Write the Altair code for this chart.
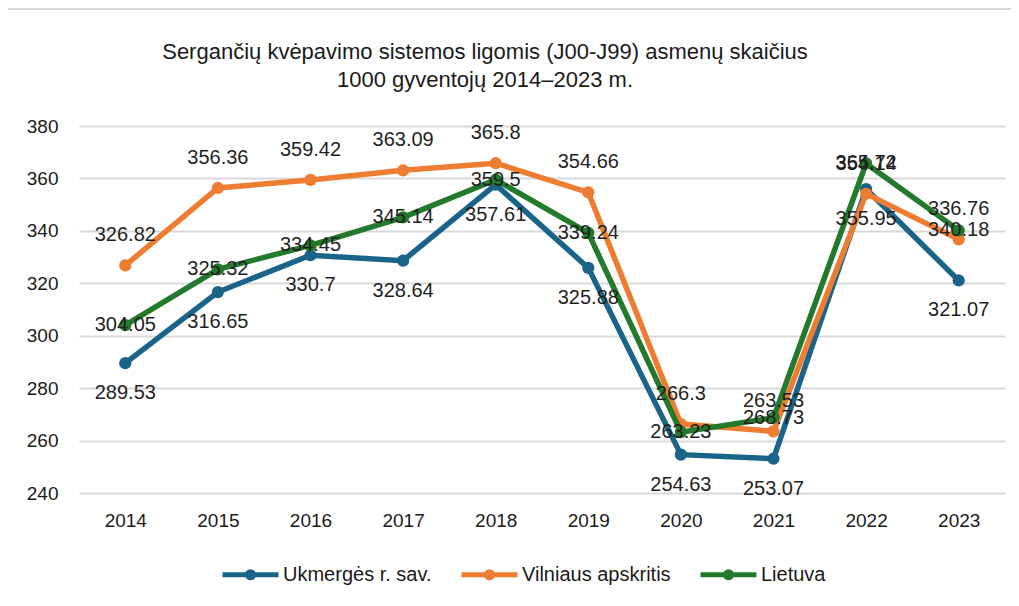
import altair as alt
import pandas as pd

years = ["2014", "2015", "2016", "2017", "2018", "2019", "2020", "2021", "2022", "2023"]
series_names = ["Ukmergės r. sav.", "Vilniaus apskritis", "Lietuva"]
ukmerge = [289.53, 316.65, 330.7, 328.64, 357.61, 325.88, 254.63, 253.07, 355.95, 321.07]
vilnius = [326.82, 356.36, 359.42, 363.09, 365.8, 354.66, 266.3, 263.53, 354.14, 336.76]
lietuva = [304.05, 325.32, 334.45, 345.14, 359.5, 339.24, 263.23, 268.73, 365.72, 340.18]
colors = ["#1b6489", "#ed7d31", "#23792c"]
y_ticks = [240, 260, 280, 300, 320, 340, 360, 380]

rows = []
for name, vals in zip(series_names, [ukmerge, vilnius, lietuva]):
    for yr, v in zip(years, vals):
        rows.append({"year": yr, "series": name, "value": v, "label": f"{v:g}"})
df = pd.DataFrame(rows)

FONT = "Liberation Sans"
W, H = 926, 367

color = alt.Color(
    "series:N",
    scale=alt.Scale(domain=series_names, range=colors),
    legend=alt.Legend(
        title=None,
        orient="none",
        direction="horizontal",
        legendX=141,
        legendY=418,
        symbolType="M-1,0H1M0.11,0A0.11,0.11,0,1,1,-0.11,0A0.11,0.11,0,1,1,0.11,0",
        symbolSize=3136,
        symbolStrokeWidth=5,
        labelFont=FONT,
        labelFontSize=20,
        labelColor="#1a1a1a",
        labelOffset=2,
        columnPadding=19,
    ),
)

x = alt.X("year:O", title=None, sort=years,
          axis=alt.Axis(labelAngle=0, labelPadding=18, grid=False))
y = alt.Y("value:Q", title=None,
          scale=alt.Scale(domain=[240, 380], nice=False, zero=False),
          axis=alt.Axis(values=y_ticks, labelPadding=21, grid=True))

base = alt.Chart(df)

def labels(name, dy):
    return base.transform_filter(alt.datum.series == name).mark_text(
        font=FONT, fontSize=20, color="#1f1f1f", dy=dy
    ).encode(x=x, y=y, text="label:N")

border = alt.Chart(pd.DataFrame({"a": [0]})).mark_rect(
    fillOpacity=0, stroke="#d9d9d9", strokeWidth=2
).encode(x=alt.value(-72), x2=alt.value(1200), y=alt.value(-117), y2=alt.value(700))

layers = []
for name in series_names:
    layers.append(
        base.transform_filter(alt.datum.series == name).mark_line(strokeWidth=5.5).encode(
            x=x, y=y, color=color
        )
    )
    layers.append(
        base.transform_filter(alt.datum.series == name).mark_circle(size=150, opacity=1).encode(
            x=x, y=y,
            color=alt.Color("series:N", scale=alt.Scale(domain=series_names, range=colors), legend=None),
        )
    )

chart = alt.layer(
    border,
    *layers,
    labels("Ukmergės r. sav.", 30),
    labels("Vilniaus apskritis", -30),
    labels("Lietuva", 0),
).properties(
    width=W,
    height=H,
    title=alt.TitleParams(
        text=["Sergančių kvėpavimo sistemos ligomis (J00-J99) asmenų skaičius",
              "1000 gyventojų 2014–2023 m."],
        font=FONT, fontSize=22, fontWeight="normal", color="#1a1a1a",
        anchor="middle", frame="group", dx=-57, offset=-84, lineHeight=28,
    ),
    autosize=alt.AutoSizeParams(type="none"),
    padding={"left": 71, "top": 118, "right": 6, "bottom": 105},
).configure_axis(
    domain=False, ticks=False,
    gridColor="#d9d9d9", gridWidth=2,
    labelFont=FONT, labelFontSize=19, labelColor="#1a1a1a",
).configure_view(stroke=None)

chart.save("out.html", embed_options={"renderer": "svg", "actions": False})
